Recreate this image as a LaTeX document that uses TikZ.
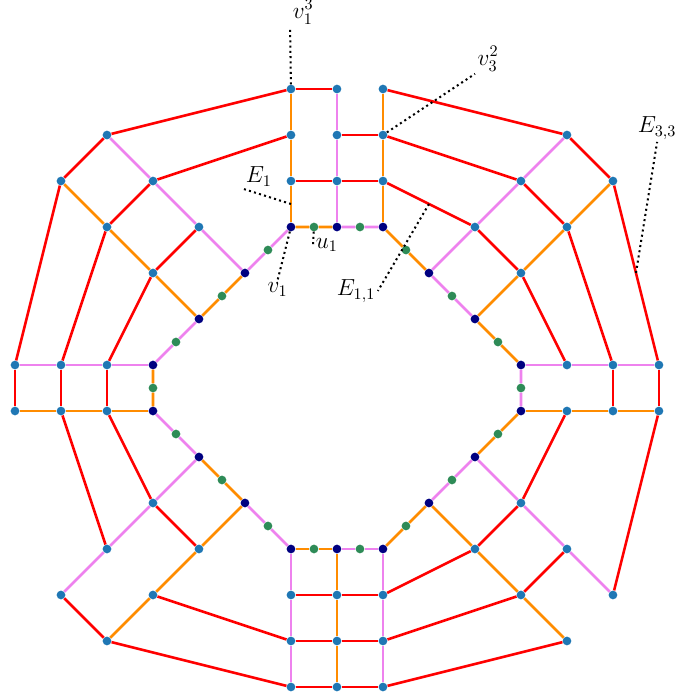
\documentclass[tikz,border=0pt]{standalone}
\usepackage{amsmath, amssymb}
\usepackage{tikz}
\usetikzlibrary{calc}

\definecolor{nodeblue}{RGB}{31,119,180}
\definecolor{innernavy}{RGB}{0,0,128}
\definecolor{midgreen}{RGB}{46,139,87}
\definecolor{edgeorange}{RGB}{255,140,0}
\definecolor{edgeviolet}{RGB}{238,130,238}

\begin{document}
\begin{tikzpicture}[x=1cm,y=-1cm,
  vtx/.style={circle,fill=nodeblue,inner sep=0pt,minimum size=5.4pt},
  ivtx/.style={vtx,fill=innernavy},
  gvtx/.style={vtx,fill=midgreen},
  redge/.style={red,line width=1.6pt},
  oedge/.style={edgeorange,line width=1.6pt},
  pedge/.style={edgeviolet,line width=1.6pt},
  lead/.style={dotted,line width=1.25pt},
  lbl/.style={font=\Large,inner sep=1.5pt}]
  \useasboundingbox (-0.326,-1.935) rectangle (14.391,13.283);
  % Outer vertices
  \foreach \c/\r in {6/0,7/0,8/0,6/1,7/1,8/1,6/2,7/2,8/2,
      2/1,1/2,3/2,2/3,4/3,3/4, 0/6,1/6,2/6,0/7,1/7,2/7,
      3/9,2/10,4/10,1/11,3/11,2/12,
      6/11,7/11,8/11,6/12,7/12,8/12,6/13,7/13,8/13,
      10/10,11/9,12/10,11/11,13/11,12/12, 12/6,13/6,14/6,12/7,13/7,14/7,
      12/1,13/2,11/2,12/3,10/3,11/4}
    \node[vtx] (n-\c-\r) at (\c,\r) {};
  % Inner cycle
  \foreach \c/\r [count=\k] in {6/3,7/3,8/3,9/4,10/5,11/6,11/7,10/8,9/9,
      8/10,7/10,6/10,5/9,4/8,3/7,3/6,4/5,5/4}
    \node[ivtx] (i\k) at (\c,\r) {};
  \foreach \k in {1,...,18}{
    \pgfmathtruncatemacro\j{mod(\k,18)+1}
    \node[gvtx] (g\k) at ($(i\k)!0.5!(i\j)$) {};
  }
  \foreach \k in {1,3,...,17}{
    \pgfmathtruncatemacro\j{\k+1}
    \draw[oedge] (i\k) -- (g\k) -- (i\j);
  }
  \foreach \k in {2,4,...,18}{
    \pgfmathtruncatemacro\j{mod(\k,18)+1}
    \draw[pedge] (i\k) -- (g\k) -- (i\j);
  }
  % Orange spokes
  \draw[oedge] (n-6-0) -- (n-6-1) -- (n-6-2) -- (i1);
  \draw[oedge] (n-8-0) -- (n-8-1) -- (n-8-2) -- (i3);
  \draw[oedge] (n-13-2) -- (n-12-3) -- (n-11-4) -- (i5);
  \draw[oedge] (n-14-7) -- (n-13-7) -- (n-12-7) -- (i7);
  \draw[oedge] (n-12-12) -- (n-11-11) -- (n-10-10) -- (i9);
  \draw[oedge] (n-7-13) -- (n-7-12) -- (n-7-11) -- (i11);
  \draw[oedge] (n-2-12) -- (n-3-11) -- (n-4-10) -- (i13);
  \draw[oedge] (n-0-7) -- (n-1-7) -- (n-2-7) -- (i15);
  \draw[oedge] (n-1-2) -- (n-2-3) -- (n-3-4) -- (i17);
  % Violet spokes
  \draw[pedge] (n-7-0) -- (n-7-1) -- (n-7-2) -- (i2);
  \draw[pedge] (n-12-1) -- (n-11-2) -- (n-10-3) -- (i4);
  \draw[pedge] (n-14-6) -- (n-13-6) -- (n-12-6) -- (i6);
  \draw[pedge] (n-13-11) -- (n-12-10) -- (n-11-9) -- (i8);
  \draw[pedge] (n-8-13) -- (n-8-12) -- (n-8-11) -- (i10);
  \draw[pedge] (n-6-13) -- (n-6-12) -- (n-6-11) -- (i12);
  \draw[pedge] (n-1-11) -- (n-2-10) -- (n-3-9) -- (i14);
  \draw[pedge] (n-0-6) -- (n-1-6) -- (n-2-6) -- (i16);
  \draw[pedge] (n-2-1) -- (n-3-2) -- (n-4-3) -- (i18);
  % Red edges
  \foreach \a/\b in {6-0/7-0,7-1/8-1,6-2/7-2,7-2/8-2,
      6-0/2-1,6-1/3-2,8-0/12-1,8-1/11-2,8-2/10-3,
      2-1/1-2,3-2/2-3,2-3/1-6,4-3/3-4,3-4/2-6,1-2/0-6,
      0-6/0-7,1-6/1-7,2-6/2-7,
      1-7/2-10,2-7/3-9,3-9/4-10,1-11/2-12,3-11/6-12,2-12/6-13,
      6-11/7-11,7-11/8-11,6-12/7-12,7-12/8-12,6-13/7-13,7-13/8-13,
      8-11/10-10,8-12/11-11,8-13/12-12,10-10/11-9,11-9/12-7,11-11/12-10,13-11/14-7,
      13-6/13-7,14-6/14-7,
      12-1/13-2,11-2/12-3,12-3/13-6,10-3/11-4,11-4/12-6,13-2/14-6}
    \draw[redge] (n-\a) -- (n-\b);
  % Labels
  \coordinate (mE1) at ($(n-6-2)!0.5!(i1)$);
  \coordinate (mE11) at ($(n-8-2)!0.5!(n-10-3)$);
  \coordinate (mE33) at ($(n-13-2)!0.5!(n-14-6)$);
  \node[lbl,anchor=south west] (lv13) at (5.98,-1.35) {$v_1^3$};
  \node[lbl,anchor=south west] (lv32) at (10.0,-0.33) {$v_3^2$};
  \node[lbl,anchor=south west] (lE1) at (4.96,2.17) {$E_1$};
  \node[lbl,anchor=west] (lu1) at (6.48,3.39) {$u_1$};
  \node[lbl,anchor=north] (lv1) at (5.71,4.15) {$v_1$};
  \node[lbl,anchor=east] (lE11) at (7.89,4.39) {$E_{1,1}$};
  \node[lbl,anchor=south] (lE33) at (13.96,1.15) {$E_{3,3}$};
  \draw[lead] (n-6-0) -- (lv13.south west);
  \draw[lead] (n-8-1) -- (lv32.south west);
  \draw[lead] (mE1) -- (lE1.south west);
  \draw[lead] (g1) -- (lu1.west);
  \draw[lead] (i1) -- (lv1.north);
  \draw[lead] (mE11) -- (lE11.east);
  \draw[lead] (mE33) -- (lE33.south);
\end{tikzpicture}
\end{document}
